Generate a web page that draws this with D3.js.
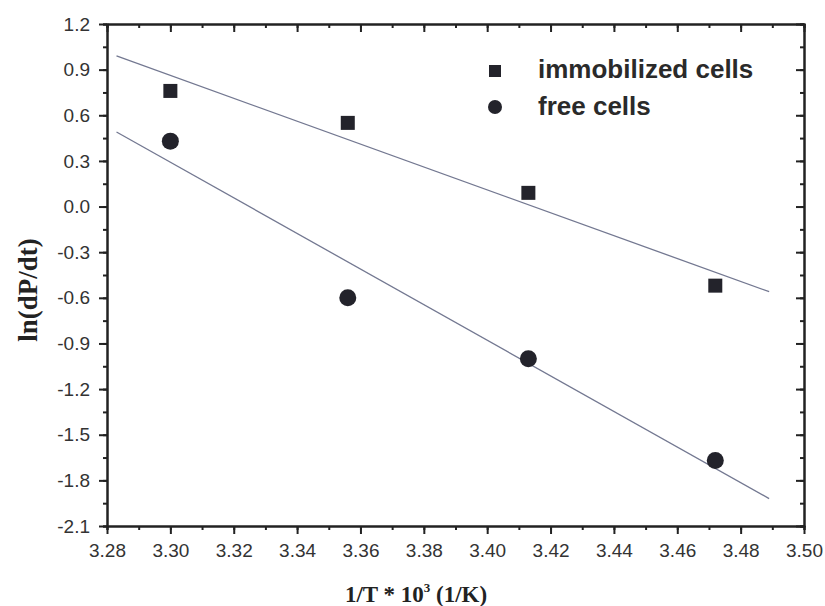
<!DOCTYPE html>
<html>
<head>
<meta charset="utf-8">
<script src="https://cdn.jsdelivr.net/npm/d3@7"></script>
<style>
  body { margin: 0; background: #fff; }
  svg { display: block; }
</style>
</head>
<body>
<svg width="825" height="606"></svg>
<script>
// data
const invT = [3.300, 3.356, 3.413, 3.472];
const immobilized = [0.76, 0.55, 0.09, -0.52];
const freeCells = [0.43, -0.60, -1.00, -1.67];

// fitted lines, endpoints as drawn
const fitX = [3.283, 3.489];
const immobilizedFit = [0.99, -0.56];
const freeFit = [0.49, -1.92];

const xTicks = [3.28, 3.30, 3.32, 3.34, 3.36, 3.38, 3.40, 3.42, 3.44, 3.46, 3.48, 3.50];
const yTicks = [1.2, 0.9, 0.6, 0.3, 0.0, -0.3, -0.6, -0.9, -1.2, -1.5, -1.8, -2.1];

const width = 825;
const height = 606;
const margin = { top: 24, right: 21, bottom: 80, left: 107 };
const ink = '#222';

const svg = d3.select('svg');

const x = d3.scaleLinear().domain([3.28, 3.50]).range([margin.left, width - margin.right]);
const y = d3.scaleLinear().domain([-2.1, 1.2]).range([height - margin.bottom, margin.top]);

const xMinor = d3.range(0, 23).map(i => 3.28 + i * 0.01);
const yMinor = d3.range(0, 23).map(i => -2.1 + i * 0.15);

// plain hyphen instead of the unicode minus
const fmtY = d => d.toFixed(1);
const fmtX = d => d.toFixed(2);

function styleAxis(g) {
  g.selectAll('.domain').attr('stroke', ink).attr('stroke-width', 2);
  g.selectAll('.tick line').attr('stroke', ink).attr('stroke-width', 2);
}

// minor ticks first
svg.append('g')
  .attr('transform', `translate(0,${height - margin.bottom})`)
  .call(d3.axisBottom(x).tickValues(xMinor).tickSize(4).tickFormat(''))
  .call(styleAxis);
svg.append('g')
  .attr('transform', `translate(0,${margin.top})`)
  .call(d3.axisTop(x).tickValues(xMinor).tickSize(-4).tickFormat(''))
  .call(styleAxis);
svg.append('g')
  .attr('transform', `translate(${margin.left},0)`)
  .call(d3.axisLeft(y).tickValues(yMinor).tickSize(4).tickFormat(''))
  .call(styleAxis);
svg.append('g')
  .attr('transform', `translate(${width - margin.right},0)`)
  .call(d3.axisRight(y).tickValues(yMinor).tickSize(-4).tickFormat(''))
  .call(styleAxis);

// major ticks
const xAxis = svg.append('g')
  .attr('transform', `translate(0,${height - margin.bottom})`)
  .call(d3.axisBottom(x).tickValues(xTicks).tickSize(8).tickSizeOuter(0).tickFormat(fmtX))
  .call(styleAxis);
xAxis.selectAll('text')
  .attr('font-family', 'Liberation Sans, Arial, sans-serif')
  .attr('font-size', 19)
  .attr('fill', '#333')
  .attr('dy', '1.05em');

svg.append('g')
  .attr('transform', `translate(0,${margin.top})`)
  .call(d3.axisTop(x).tickValues(xTicks).tickSize(-8).tickSizeOuter(0).tickFormat(''))
  .call(styleAxis);

const yAxis = svg.append('g')
  .attr('transform', `translate(${margin.left},0)`)
  .call(d3.axisLeft(y).tickValues(yTicks).tickSize(8).tickSizeOuter(0).tickFormat(fmtY))
  .call(styleAxis);
yAxis.selectAll('text')
  .attr('font-family', 'Liberation Sans, Arial, sans-serif')
  .attr('font-size', 19)
  .attr('fill', '#333')
  .attr('x', -17);

svg.append('g')
  .attr('transform', `translate(${width - margin.right},0)`)
  .call(d3.axisRight(y).tickValues(yTicks).tickSize(-8).tickSizeOuter(0).tickFormat(''))
  .call(styleAxis);

// fit lines
const line = d3.line().x(d => x(d[0])).y(d => y(d[1]));
[immobilizedFit, freeFit].forEach(fit => {
  svg.append('path')
    .datum(fitX.map((v, i) => [v, fit[i]]))
    .attr('d', line)
    .attr('fill', 'none')
    .attr('stroke', '#737891')
    .attr('stroke-width', 1.3);
});

// points
const sq = 14;
svg.append('g').selectAll('rect')
  .data(invT.map((v, i) => [v, immobilized[i]]))
  .join('rect')
  .attr('x', d => x(d[0]) - sq / 2)
  .attr('y', d => y(d[1]) - sq / 2)
  .attr('width', sq)
  .attr('height', sq)
  .attr('fill', '#23232b');

svg.append('g').selectAll('circle')
  .data(invT.map((v, i) => [v, freeCells[i]]))
  .join('circle')
  .attr('cx', d => x(d[0]))
  .attr('cy', d => y(d[1]))
  .attr('r', 8.5)
  .attr('fill', '#23232b');

// legend
const legend = svg.append('g').attr('font-family', 'Liberation Sans, Arial, sans-serif')
  .attr('font-weight', 'bold').attr('font-size', 26).attr('fill', '#2a2a2a');
legend.append('rect').attr('x', 489).attr('y', 65).attr('width', 12).attr('height', 12).attr('fill', '#23232b');
legend.append('circle').attr('cx', 495).attr('cy', 107).attr('r', 7).attr('fill', '#23232b');
legend.append('text').attr('x', 538).attr('y', 78).text('immobilized cells');
legend.append('text').attr('x', 538).attr('y', 115).text('free cells');

// axis titles
const xTitle = svg.append('text')
  .attr('x', 416)
  .attr('y', 602)
  .attr('text-anchor', 'middle')
  .attr('font-family', 'Liberation Serif, Times New Roman, serif')
  .attr('font-weight', 'bold')
  .attr('font-size', 23)
  .attr('fill', '#222');
xTitle.append('tspan').text('1/T * 10');
xTitle.append('tspan').attr('font-size', 13).attr('dy', -10).text('3');
xTitle.append('tspan').attr('dy', 10).text(' (1/K)');

svg.append('text')
  .attr('transform', 'translate(37,290) rotate(-90)')
  .attr('text-anchor', 'middle')
  .attr('font-family', 'Liberation Serif, Times New Roman, serif')
  .attr('font-weight', 'bold')
  .attr('font-size', 27)
  .attr('fill', '#222')
  .text('ln(dP/dt)');
</script>
</body>
</html>
